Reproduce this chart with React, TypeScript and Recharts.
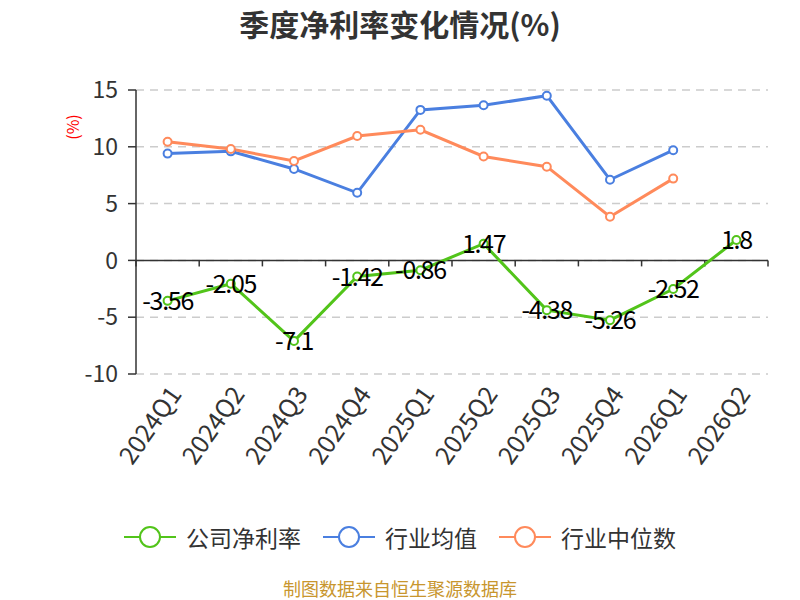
import React from 'react';
import { LineChart, Line, XAxis, YAxis, CartesianGrid, ReferenceLine, LabelList } from 'recharts';

const categories = ['2024Q1', '2024Q2', '2024Q3', '2024Q4', '2025Q1', '2025Q2', '2025Q3', '2025Q4', '2026Q1', '2026Q2'];
const companyMargin: (number | null)[] = [-3.56, -2.05, -7.1, -1.42, -0.86, 1.47, -4.38, -5.26, -2.52, 1.8];
const industryMean: (number | null)[] = [9.4, 9.6, 8.05, 5.95, 13.25, 13.65, 14.5, 7.1, 9.7, null];
const industryMedian: (number | null)[] = [10.45, 9.8, 8.75, 10.95, 11.5, 9.15, 8.25, 3.85, 7.2, null];
const yTicks = [-10, -5, 0, 5, 10, 15];

const seriesNames = ['公司净利率', '行业均值', '行业中位数'];
const colors = ['#52c41a', '#4a7fe0', '#ff8a5b'];

const data = categories.map((c, i) => ({
  name: c,
  company: companyMargin[i],
  mean: industryMean[i],
  median: industryMedian[i],
}));

const FONT = '"Noto Sans CJK SC", "Noto Sans", sans-serif';

const ZeroAxis = (props: any) => {
  const { x1, x2, y1 } = props;
  const n = categories.length;
  const ticks = [];
  for (let i = 0; i <= n; i++) {
    const x = x1 + ((x2 - x1) * i) / n;
    ticks.push(<line key={i} x1={x} x2={x} y1={y1} y2={y1 + 6} stroke="#333" strokeWidth={1.5} />);
  }
  return (
    <g>
      <line x1={x1} x2={x2} y1={y1} y2={y1} stroke="#333" strokeWidth={1.5} />
      {ticks}
    </g>
  );
};

const XTick = (props: any) => {
  const { x, y, payload } = props;
  const ax = x + 6;
  const ay = y + 6;
  return (
    <text
      x={ax}
      y={ay}
      transform={`rotate(-55, ${ax}, ${ay})`}
      textAnchor="end"
      dominantBaseline="central"
      fontSize={25}
      fill="#333"
      fontFamily={FONT}
    >
      {payload.value}
    </text>
  );
};

const DataLabel = (props: any) => {
  const { x, y, value } = props;
  return (
    <text x={x} y={y - 2} textAnchor="middle" dominantBaseline="central" fontSize={25} fill="#000" fontFamily={FONT} letterSpacing={-1.3}>
      {value}
    </text>
  );
};

const LegendIcon = ({ color }: { color: string }) => (
  <svg width={52} height={24} style={{ display: 'block' }}>
    <line x1={0} x2={52} y1={12} y2={12} stroke={color} strokeWidth={2} />
    <circle cx={26} cy={12} r={10} fill="#fff" stroke={color} strokeWidth={2} />
  </svg>
);

export default function App() {
  return (
    <div style={{ position: 'absolute', left: 0, top: 0, width: 800, height: 600, background: '#fff', fontFamily: FONT, overflow: 'hidden' }}>
      <div
        style={{
          position: 'absolute',
          top: 3,
          left: 0,
          width: 800,
          textAlign: 'center',
          fontSize: 30,
          fontWeight: 'bold',
          color: '#333',
          lineHeight: '40px',
        }}
      >
        季度净利率变化情况(%)
      </div>
      <div
        style={{
          position: 'absolute',
          left: 72,
          top: 127,
          transform: 'translate(-50%, -50%) rotate(-90deg)',
          color: 'red',
          fontSize: 16,
          whiteSpace: 'nowrap',
        }}
      >
        (%)
      </div>
      <div style={{ position: 'absolute', left: 0, top: 0 }}>
        <LineChart width={800} height={600} data={data} margin={{ top: 90, right: 32, left: 76, bottom: 166 }}>
          <CartesianGrid vertical={false} stroke="#ccc" strokeDasharray="8 6" strokeWidth={1.5} />
          <XAxis
            dataKey="name"
            scale="band"
            axisLine={false}
            tickLine={false}
            interval={0}
            height={60}
            tick={<XTick />}
          />
          <YAxis
            domain={[-10, 15]}
            ticks={yTicks}
            width={60}
            axisLine={{ stroke: '#333', strokeWidth: 1.5 }}
            tickLine={{ stroke: '#333', strokeWidth: 1.5 }}
            tickSize={8}
            tickMargin={10}
            tick={{ fontSize: 23, fill: '#333', fontFamily: FONT }}
            allowDataOverflow
          />
          <ReferenceLine y={0} shape={<ZeroAxis />} />
          <Line
            type="linear"
            dataKey="mean"
            stroke={colors[1]}
            strokeWidth={3}
            dot={{ r: 4, fill: '#fff', stroke: colors[1], strokeWidth: 2 }}
            isAnimationActive={false}
          />
          <Line
            type="linear"
            dataKey="median"
            stroke={colors[2]}
            strokeWidth={3}
            dot={{ r: 4, fill: '#fff', stroke: colors[2], strokeWidth: 2 }}
            isAnimationActive={false}
          />
          <Line
            type="linear"
            dataKey="company"
            stroke={colors[0]}
            strokeWidth={3}
            dot={{ r: 4, fill: '#fff', stroke: colors[0], strokeWidth: 2 }}
            isAnimationActive={false}
          >
            <LabelList dataKey="company" content={<DataLabel />} />
          </Line>
        </LineChart>
      </div>
      <div
        style={{
          position: 'absolute',
          top: 522,
          left: 0,
          width: 800,
          display: 'flex',
          justifyContent: 'center',
          alignItems: 'center',
          fontSize: 23,
          color: '#333',
        }}
      >
        {seriesNames.map((n, i) => (
          <div key={n} style={{ display: 'flex', alignItems: 'center', marginRight: i < 2 ? 22 : 0 }}>
            <LegendIcon color={colors[i]} />
            <span style={{ marginLeft: 10, lineHeight: '30px' }}>{n}</span>
          </div>
        ))}
      </div>
      <div
        style={{
          position: 'absolute',
          top: 577,
          left: 0,
          width: 800,
          textAlign: 'center',
          fontSize: 18,
          color: '#c8962e',
          lineHeight: '22px',
        }}
      >
        制图数据来自恒生聚源数据库
      </div>
    </div>
  );
}
